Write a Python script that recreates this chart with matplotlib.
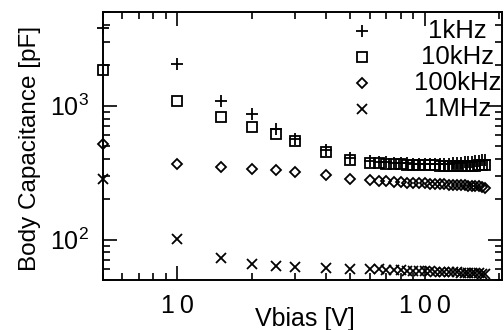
import matplotlib
matplotlib.use("Agg")
import matplotlib.pyplot as plt
from matplotlib.ticker import NullFormatter, LogLocator

plt.rcParams['font.family'] = ['Liberation Sans', 'DejaVu Sans']
plt.rcParams['mathtext.fontset'] = 'custom'
plt.rcParams['mathtext.rm'] = 'Liberation Sans'
plt.rcParams['mathtext.default'] = 'regular'

# ── data ─────────────────────────────────────────────────────
vbias = [5, 10, 15, 20, 25, 30, 40, 50,
         60, 65, 70, 75, 80, 85, 90, 95, 100, 105,
         110, 115, 120, 125, 130, 135, 140, 145, 150, 155,
         160, 165, 170, 175]

c_1khz = [3800, 2050, 1090, 870, 670, 560, 465, 405,
          385, 382, 378, 375, 372, 370, 368, 366, 365, 365,
          365, 366, 367, 369, 371, 373, 375, 377, 380, 382,
          385, 388, 391, 395]
c_10khz = [1850, 1077, 818, 689, 615, 542, 449, 394,
           372, 370, 368, 366, 364, 362, 361, 360, 359, 358,
           357, 356, 356, 355, 355, 354, 354, 354, 355, 355,
           356, 357, 358, 360]
c_100khz = [519, 368, 347, 338, 328, 319, 301, 281,
            278, 275, 272, 270, 268, 266, 264, 263, 262, 261,
            260, 259, 258, 257, 256, 255, 254, 253, 252, 251,
            250, 249, 247, 244]
c_1mhz = [281, 101.6, 72.6, 66, 63.4, 62.3, 61.7, 60.7,
          60, 59.8, 59.5, 59.2, 59, 58.7, 58.5, 58.3, 58.1, 57.9,
          57.7, 57.5, 57.3, 57.1, 57, 56.8, 56.6, 56.5, 56.3, 56.2,
          56, 55.8, 55.6, 55.4]

labels = ["1kHz", "10kHz", "100kHz", "1MHz"]
xtick_vals = [10, 100]
xtick_text = ["1\u20090", "1\u20090\u20090"]
ytick_vals = [100, 1000]
ytick_text = [r"$10^2$", r"$10^3$"]

series = [c_1khz, c_10khz, c_100khz, c_1mhz]
styles = [
    dict(marker="+", ms=9, mew=1.3),
    dict(marker="s", ms=6.5, mew=1.3, mfc="none"),
    dict(marker="D", ms=4.6, mew=1.3, mfc="none"),
    dict(marker="x", ms=7, mew=1.3),
]

fig = plt.figure(figsize=(5.04, 3.30), dpi=100)
ax = fig.add_axes([0.204, 0.152, 0.792, 0.812])

for ys, st in zip(series, styles):
    ax.plot(vbias, ys, ls="none", color="black", clip_on=False, **st)

ax.set_xscale("log")
ax.set_yscale("log")
ax.set_xlim(5, 205)
ax.set_ylim(50, 5000)

ax.set_xticks(xtick_vals, labels=xtick_text)
ax.set_yticks(ytick_vals, labels=ytick_text)
ax.xaxis.set_minor_locator(LogLocator(subs=range(2, 10)))
ax.yaxis.set_minor_locator(LogLocator(subs=range(2, 10)))
ax.xaxis.set_minor_formatter(NullFormatter())
ax.yaxis.set_minor_formatter(NullFormatter())

ax.tick_params(which="both", direction="in", top=True, right=True,
               width=1.2, labelsize=18, color="black")
ax.tick_params(which="major", length=10)
ax.tick_params(which="minor", length=5)
ax.tick_params(axis="x", pad=10)
ax.tick_params(axis="y", pad=10)
for sp in ax.spines.values():
    sp.set_linewidth(1.4)

ax.set_xlabel("Vbias [V]", fontsize=18)
ax.xaxis.set_label_coords(0.505, -0.1)
ax.set_ylabel("Body Capacitance [pF]", fontsize=17.5)
ax.yaxis.set_label_coords(-0.155, 0.49)

# legend drawn by hand: marker column + centred labels
for i, (lab, st) in enumerate(zip(labels, styles)):
    y = 0.93 - i * 0.097
    ax.plot([0.649], [y], ls="none", color="black", transform=ax.transAxes, **st)
    ax.text(0.888, y, lab, ha="center", va="center", fontsize=18.5,
            transform=ax.transAxes)

fig.savefig("out.png", dpi=100)
